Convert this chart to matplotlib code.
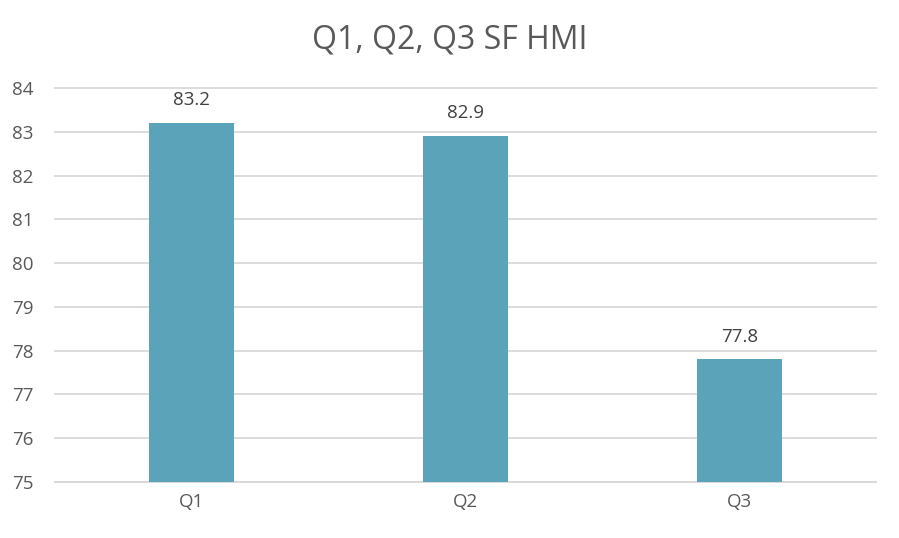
import matplotlib
matplotlib.use('Agg')
import matplotlib.pyplot as plt

categories = ['Q1', 'Q2', 'Q3']
values = [83.2, 82.9, 77.8]
yticks = [75, 76, 77, 78, 79, 80, 81, 82, 83, 84]

plt.rcParams['font.family'] = ['Open Sans', 'DejaVu Sans']
text_color = '#595959'
grid_color = '#D9D9D9'
bar_color = '#5BA3B9'

fig = plt.figure(figsize=(8.99, 5.38), dpi=100)
ax = fig.add_axes([0.0612, 0.1041, 0.9133, 0.7323])

x = list(range(len(categories)))
bars = ax.bar(x, values, width=0.31, color=bar_color, zorder=3)
for xi, v in zip(x, values):
    ax.annotate(f'{v:.1f}', (xi, v), xytext=(0, 10), textcoords='offset points',
                ha='center', va='bottom', fontsize=13.5, color='#404040')

ax.set_ylim(75, 84)
ax.set_xlim(-0.5, 2.5)
ax.set_yticks(yticks)
ax.set_xticks(x)
ax.set_xticklabels(categories)
ax.tick_params(axis='both', length=0, labelsize=13.5, labelcolor=text_color)
ax.tick_params(axis='y', pad=31)
ax.tick_params(axis='x', pad=8)
for lab in ax.get_yticklabels():
    lab.set_horizontalalignment('left')
ax.yaxis.grid(True, color=grid_color, lw=1.3, zorder=0)
for gl in ax.get_ygridlines():
    gl.set_clip_on(False)
for s in ['top', 'right', 'left']:
    ax.spines[s].set_visible(False)
ax.spines['bottom'].set_color(grid_color)
ax.spines['bottom'].set_linewidth(1.3)

fig.text(0.5, 0.925, 'Q1, Q2, Q3 SF HMI', ha='center', va='center', fontsize=23, color=text_color)

plt.savefig('out.png', dpi=100)
